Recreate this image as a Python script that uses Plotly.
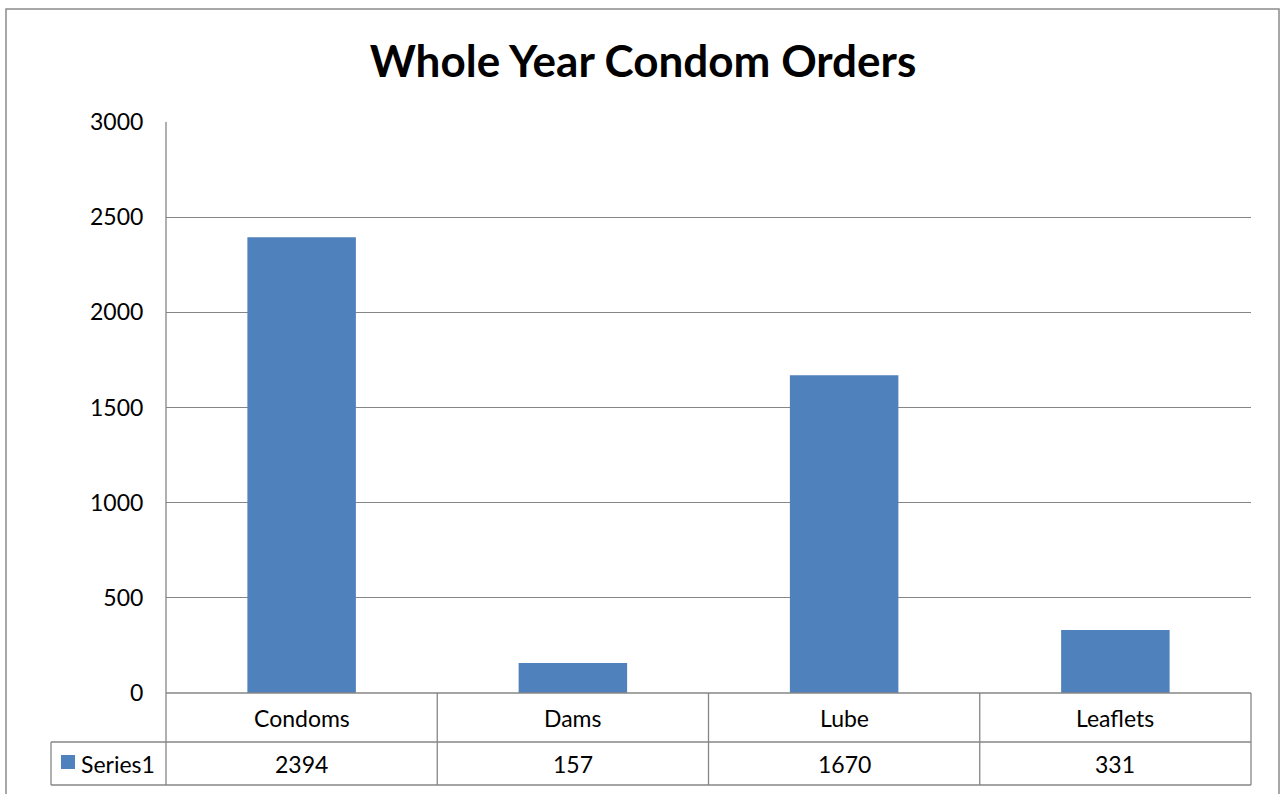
import plotly.graph_objects as go

categories = ["Condoms", "Dams", "Lube", "Leaflets"]
values = [2394, 157, 1670, 331]
series_name = "Series1"
title_text = "Whole Year Condom Orders"
y_ticks = [0, 500, 1000, 1500, 2000, 2500, 3000]

W, H = 1287, 794
L, R, T, B = 166, 1251, 122, 693
pw, ph = R - L, B - T

def px(x):
    return (x - L) / pw

def py(y):
    return (B - y) / ph

FONT = "Lato"
FS = 23
GRID = "#868686"
BAR = "#4F81BD"

fig = go.Figure()
fig.add_trace(go.Bar(x=categories, y=values, marker=dict(color=BAR, line=dict(width=0)),
                     width=0.4, name=series_name, hoverinfo="skip"))

shapes = []
# outer chart border
shapes.append(dict(type="rect", xref="paper", yref="paper", x0=px(6), x1=px(1279),
                   y0=py(820), y1=py(9), line=dict(color="#8C8C8C", width=1.5)))
# table lines
row1, row2 = 742, 785
line = dict(color=GRID, width=1.3)
shapes.append(dict(type="line", xref="paper", yref="paper", x0=px(L), x1=px(R), y0=py(B), y1=py(B), line=line))
shapes.append(dict(type="line", xref="paper", yref="paper", x0=px(51), x1=px(R), y0=py(row1), y1=py(row1), line=line))
shapes.append(dict(type="line", xref="paper", yref="paper", x0=px(51), x1=px(R), y0=py(row2), y1=py(row2), line=line))
shapes.append(dict(type="line", xref="paper", yref="paper", x0=px(51), x1=px(51), y0=py(row1), y1=py(row2), line=line))
shapes.append(dict(type="line", xref="paper", yref="paper", x0=0, x1=0, y0=py(row2), y1=1, line=line))
for i in range(1, len(categories) + 1):
    xb = L + pw * i / len(categories)
    shapes.append(dict(type="line", xref="paper", yref="paper", x0=px(xb), x1=px(xb),
                       y0=py(row2), y1=py(B), line=line))
# legend key
shapes.append(dict(type="rect", xref="paper", yref="paper", x0=px(61), x1=px(75),
                   y0=py(769), y1=py(755), fillcolor=BAR, line=dict(width=0)))

annotations = []
for c, v in zip(categories, values):
    annotations.append(dict(x=c, xref="x", y=py((B + row1) / 2), yref="paper", text=c,
                            xanchor="center", yanchor="middle",
                            showarrow=False, font=dict(family=FONT, size=FS, color="#000000")))
    annotations.append(dict(x=c, xref="x", y=py((row1 + row2) / 2), yref="paper", text=str(v),
                            xanchor="center", yanchor="middle",
                            showarrow=False, font=dict(family=FONT, size=FS, color="#000000")))
annotations.append(dict(x=px(79), xref="paper", y=py((row1 + row2) / 2), yref="paper",
                        text=series_name, xanchor="left", yanchor="middle", showarrow=False,
                        font=dict(family=FONT, size=FS, color="#000000")))

fig.update_layout(
    width=W, height=H,
    margin=dict(l=L, r=W - R, t=T, b=H - B, pad=0),
    paper_bgcolor="white", plot_bgcolor="white",
    title=dict(text="<b>" + title_text + "</b>", x=643 / W, xref="container", xanchor="center",
               y=1 - 62 / H, yref="container", yanchor="middle",
               font=dict(family=FONT, size=44, color="#000000")),
    showlegend=False,
    bargap=0.6,
    shapes=shapes,
    annotations=annotations,
    xaxis=dict(showticklabels=False, showgrid=False, zeroline=False, showline=False,
               ticks="", fixedrange=True),
    yaxis=dict(range=[0, 3000], tickvals=y_ticks, showgrid=True, gridcolor=GRID, gridwidth=1.3,
               zeroline=False, showline=False, ticks="outside", ticklen=0,
               ticklabelstandoff=17,
               tickfont=dict(family=FONT, size=FS, color="#000000"), fixedrange=True),
)

fig.write_html("out.html", config={"displayModeBar": False},
               post_script="document.body.style.margin='0';document.body.style.overflow='hidden';")
